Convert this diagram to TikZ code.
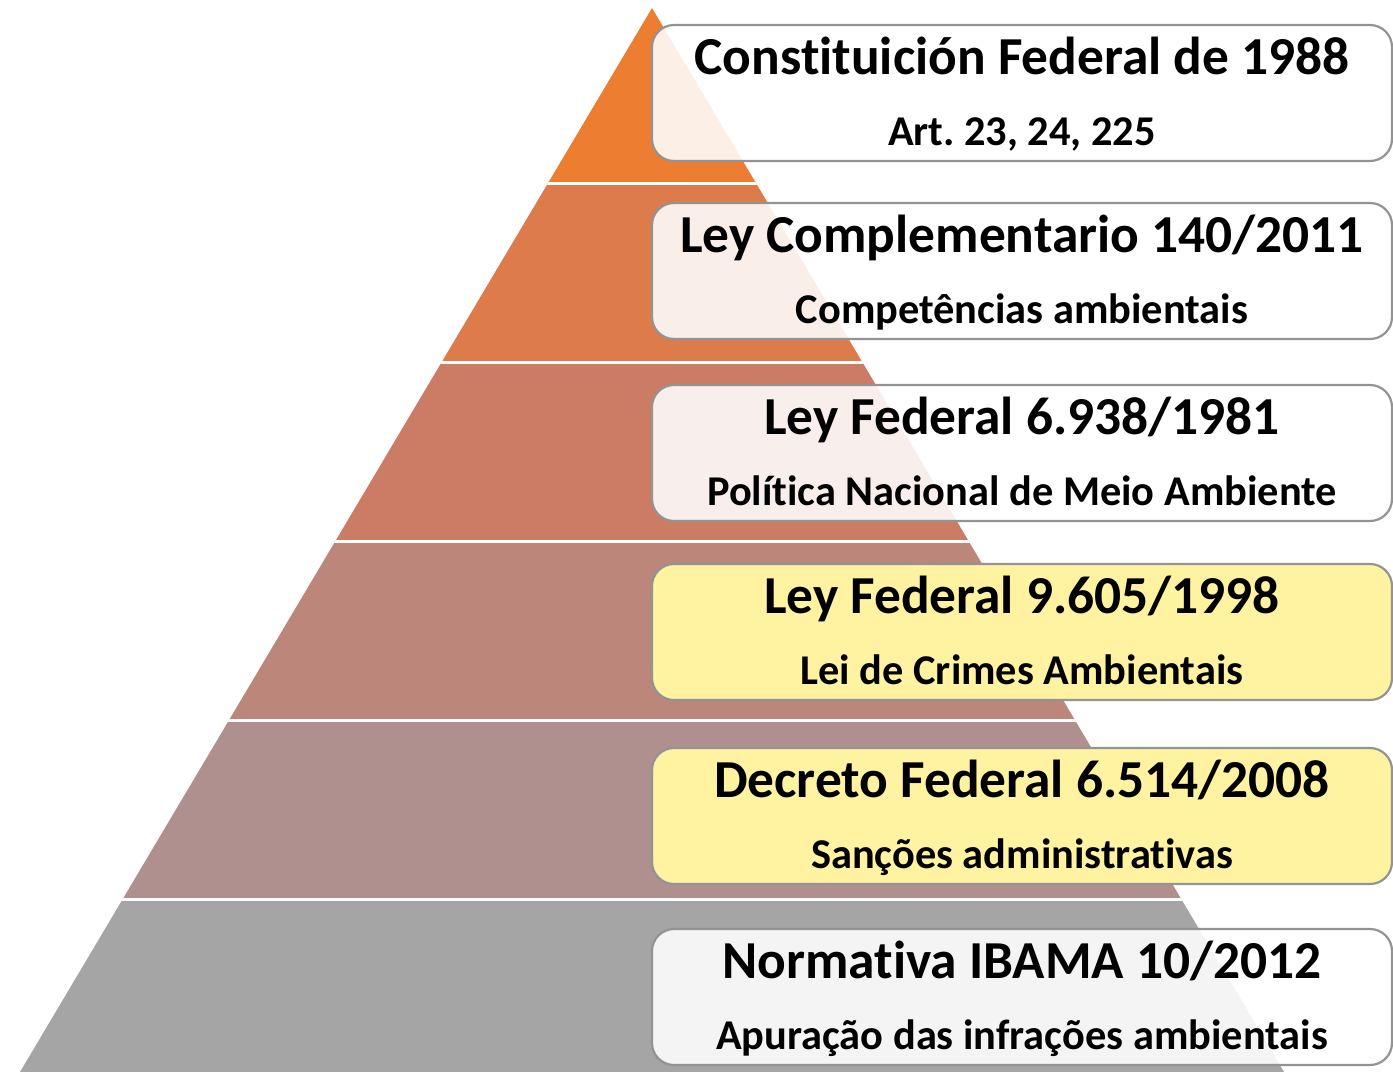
\documentclass[tikz,border=0pt]{standalone}
\usepackage{fontspec}
\setmainfont{Carlito}[RawFeature={-liga;-clig;-calt;-dlig}]
\frenchspacing
\definecolor{cA}{HTML}{ED7D31}
\definecolor{cB}{HTML}{DE7B4B}
\definecolor{cC}{HTML}{CC7B64}
\definecolor{cD}{HTML}{BC877A}
\definecolor{cE}{HTML}{AF908E}
\definecolor{cF}{HTML}{A5A5A5}
\definecolor{ylw}{HTML}{FFF2A1}
\definecolor{bord}{HTML}{939393}
\begin{document}
\begin{tikzpicture}[x=0.5pt,y=-0.5pt,
 boxw/.style={draw=bord, line width=1.1pt, rounded corners=11pt, fill=white, fill opacity=0.88, minimum width=370pt, minimum height=68pt, inner sep=0pt},
 boxy/.style={boxw, fill=ylw, fill opacity=1},
 ttl/.style={font=\bfseries\fontsize{26.7}{30}\selectfont, anchor=base, inner sep=0pt},
 sub/.style={font=\bfseries\fontsize{21.2}{24}\selectfont, anchor=base, inner sep=0pt},
 sep/.style={white, line width=1.5pt}]
\useasboundingbox (0,0) rectangle (1393,1072);
\begin{scope}
\clip (652,8) -- (1284,1072) -- (20,1072) -- cycle;
\fill[cA] (0,0) rectangle (1393,183);
\fill[cB] (0,183) rectangle (1393,362);
\fill[cC] (0,362) rectangle (1393,541);
\fill[cD] (0,541) rectangle (1393,720);
\fill[cE] (0,720) rectangle (1393,899);
\fill[cF] (0,899) rectangle (1393,1072);
\coordinate (l1) at (0,183); \coordinate (r1) at (1393,183);
\coordinate (l2) at (0,362); \coordinate (r2) at (1393,362);
\coordinate (l3) at (0,541); \coordinate (r3) at (1393,541);
\coordinate (l4) at (0,720); \coordinate (r4) at (1393,720);
\coordinate (l5) at (0,899); \coordinate (r5) at (1393,899);
\draw[sep] (l1) -- (r1);
\draw[sep] (l2) -- (r2);
\draw[sep] (l3) -- (r3);
\draw[sep] (l4) -- (r4);
\draw[sep] (l5) -- (r5);
\end{scope}
\node[boxw] (b1) at (1022,93) {};
\node[boxw] (b2) at (1022,271) {};
\node[boxw] (b3) at (1022,453) {};
\node[boxy] (b4) at (1022,632) {};
\node[boxy] (b5) at (1022,816) {};
\node[boxw] (b6) at (1022,997) {};
\node[ttl] (t1) at (1022,74) {Constituición Federal de 1988};
\node[sub] (s1) at (1022,145) {Art. 23, 24, 225};
\node[ttl] (t2) at (1022,252) {Ley Complementario 140/2011};
\node[sub] (s2) at (1022,323) {Competências ambientais};
\node[ttl] (t3) at (1022,434) {Ley Federal 6.938/1981};
\node[sub] (s3) at (1022,505) {Política Nacional de Meio Ambiente};
\node[ttl] (t4) at (1022,613) {Ley Federal 9.605/1998};
\node[sub] (s4) at (1022,684) {Lei de Crimes Ambientais};
\node[ttl] (t5) at (1022,797) {Decreto Federal 6.514/2008};
\node[sub] (s5) at (1022,868) {Sanções administrativas};
\node[ttl] (t6) at (1022,978) {Normativa IBAMA 10/2012};
\node[sub] (s6) at (1022,1049) {Apuração das infrações ambientais};
\end{tikzpicture}
\end{document}
